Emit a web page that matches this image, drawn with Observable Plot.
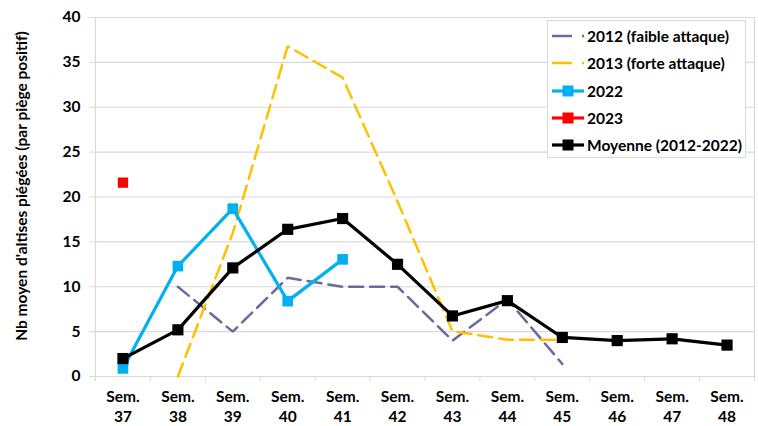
<!DOCTYPE html>
<html>
<head>
<meta charset="utf-8">
<script src="https://cdn.jsdelivr.net/npm/d3@7"></script>
<script src="https://cdn.jsdelivr.net/npm/@observablehq/plot@0.6"></script>
<style>
  html, body { margin: 0; padding: 0; background: #fff; }
  #wrap { position: relative; width: 758px; height: 426px; font-family: Lato, "Open Sans", sans-serif; }
  #legend { position: absolute; left: 547px; top: 20px; width: 197px; height: 136px; border: 1px solid #d9d9d9; background: #fff; box-sizing: content-box; }
  .item { position: absolute; left: 4px; height: 20px; display: flex; align-items: center; font-weight: bold; font-size: 15.5px; color: #000; white-space: nowrap; }
  .item svg { margin-right: 3px; }
</style>
</head>
<body>
<div id="wrap"><div id="legend"></div></div>
<script>
const weeks = [37, 38, 39, 40, 41, 42, 43, 44, 45, 46, 47, 48];
const v2012 = [null, 10, 5, 11, 10, 10, 4, 8.6, 1.4, null, null, null];
const v2013 = [null, 0, 16, 36.8, 33.3, 19.5, 5.05, 4.1, 4.1, null, null, null];
const v2022 = [0.9, 12.3, 18.7, 8.4, 13.05, null, null, null, null, null, null, null];
const v2023 = [21.6, null, null, null, null, null, null, null, null, null, null, null];
const vMoy = [2.0, 5.2, 12.1, 16.4, 17.6, 12.5, 6.75, 8.45, 4.35, 4.0, 4.2, 3.5];
const yTicks = [0, 5, 10, 15, 20, 25, 30, 35, 40];
const seriesNames = ["2012 (faible attaque)", "2013 (forte attaque)", "2022", "2023", "Moyenne (2012-2022)"];
const yTitle = "Nb moyen d'altises piégées (par piège positif)";

const colors = { s2012: "#6a6aa0", s2013: "#ffc000", s2022: "#00b0f0", s2023: "#ff0000", moy: "#000000" };

const rows = (vals) => weeks.map((w, i) => ({ w, v: vals[i] }));
const defined = (vals) => rows(vals).filter(d => d.v != null);
const bounds = [weeks[0] - 0.5, ...weeks.map(w => w + 0.5)];

const font = "Lato, 'Open Sans', sans-serif";
const fs = 15.5;

const chart = Plot.plot({
  width: 758,
  height: 426,
  marginLeft: 95,
  marginRight: 4,
  marginTop: 17,
  marginBottom: 50,
  style: { fontFamily: font, fontSize: fs + "px", fontWeight: "bold", color: "#000", background: "#fff" },
  x: { type: "linear", domain: [bounds[0], bounds[bounds.length - 1]] },
  y: { domain: [0, 40] },
  marks: [
    Plot.gridY(yTicks, { stroke: "#d9d9d9", strokeOpacity: 1, strokeWidth: 1.2 }),
    Plot.ruleX([bounds[0]], { stroke: "#d9d9d9", strokeWidth: 1.2 }),
    Plot.ruleX([bounds[bounds.length - 1]], { stroke: "#d9d9d9", strokeWidth: 1.2 }),
    Plot.ruleY([0], { stroke: "#d9d9d9", strokeWidth: 1.2 }),
    Plot.axisY({ ticks: yTicks, tickSize: 6, tickPadding: 9, stroke: "#d9d9d9", strokeOpacity: 1, fontSize: fs, fontWeight: "bold", label: null }),
    Plot.axisX({ ticks: bounds, tickSize: 5, stroke: "#d9d9d9", strokeOpacity: 1, tickFormat: () => "", label: null }),
    Plot.axisX({ ticks: weeks, tickSize: 0, tickPadding: 12, tickFormat: w => "Sem.\n" + w, fontSize: fs, fontWeight: "bold", lineHeight: 1.27, label: null }),
    Plot.text([yTitle], { frameAnchor: "left", textAnchor: "middle", dx: -73, dy: -11, rotate: -90, fontSize: fs, fontWeight: "bold" }),
    Plot.line(defined(v2012), { x: "w", y: "v", stroke: colors.s2012, strokeWidth: 2.5, strokeDasharray: "14,7", strokeLinejoin: "miter" }),
    Plot.line(defined(v2013), { x: "w", y: "v", stroke: colors.s2013, strokeWidth: 2.5, strokeDasharray: "14,7", strokeLinejoin: "miter" }),
    Plot.line(defined(v2022), { x: "w", y: "v", stroke: colors.s2022, strokeWidth: 3.2 }),
    Plot.dot(defined(v2022), { x: "w", y: "v", symbol: "square", r: 6, fill: colors.s2022, stroke: "none" }),
    Plot.dot(defined(v2023), { x: "w", y: "v", symbol: "square", r: 5.8, fill: colors.s2023, stroke: "none" }),
    Plot.line(defined(vMoy), { x: "w", y: "v", stroke: colors.moy, strokeWidth: 3.2 }),
    Plot.dot(defined(vMoy), { x: "w", y: "v", symbol: "square", r: 6.3, fill: colors.moy, stroke: "none" })
  ]
});
document.getElementById("wrap").prepend(chart);

// legend
const legendDefs = [
  { name: seriesNames[0], color: colors.s2012, dash: "20,10", width: 2.5, marker: false },
  { name: seriesNames[1], color: colors.s2013, dash: "20,10", width: 2.5, marker: false },
  { name: seriesNames[2], color: colors.s2022, dash: null, width: 3.2, marker: true },
  { name: seriesNames[3], color: colors.s2023, dash: null, width: 3.2, marker: true },
  { name: seriesNames[4], color: colors.moy, dash: null, width: 3.2, marker: true }
];
const legend = document.getElementById("legend");
legendDefs.forEach((d, i) => {
  const item = document.createElement("div");
  item.className = "item";
  item.style.top = (5 + i * 27.3) + "px";
  const ns = "http://www.w3.org/2000/svg";
  const svg = document.createElementNS(ns, "svg");
  svg.setAttribute("width", 32); svg.setAttribute("height", 20);
  const ln = document.createElementNS(ns, "line");
  ln.setAttribute("x1", 0); ln.setAttribute("x2", 32); ln.setAttribute("y1", 10); ln.setAttribute("y2", 10);
  ln.setAttribute("stroke", d.color); ln.setAttribute("stroke-width", d.width);
  if (d.dash) ln.setAttribute("stroke-dasharray", d.dash);
  svg.appendChild(ln);
  if (d.marker) {
    const r = document.createElementNS(ns, "rect");
    r.setAttribute("x", 10.5); r.setAttribute("y", 4.5); r.setAttribute("width", 11); r.setAttribute("height", 11);
    r.setAttribute("fill", d.color);
    svg.appendChild(r);
  }
  item.appendChild(svg);
  const t = document.createElement("span");
  t.textContent = d.name;
  item.appendChild(t);
  legend.appendChild(item);
});
</script>
</body>
</html>
